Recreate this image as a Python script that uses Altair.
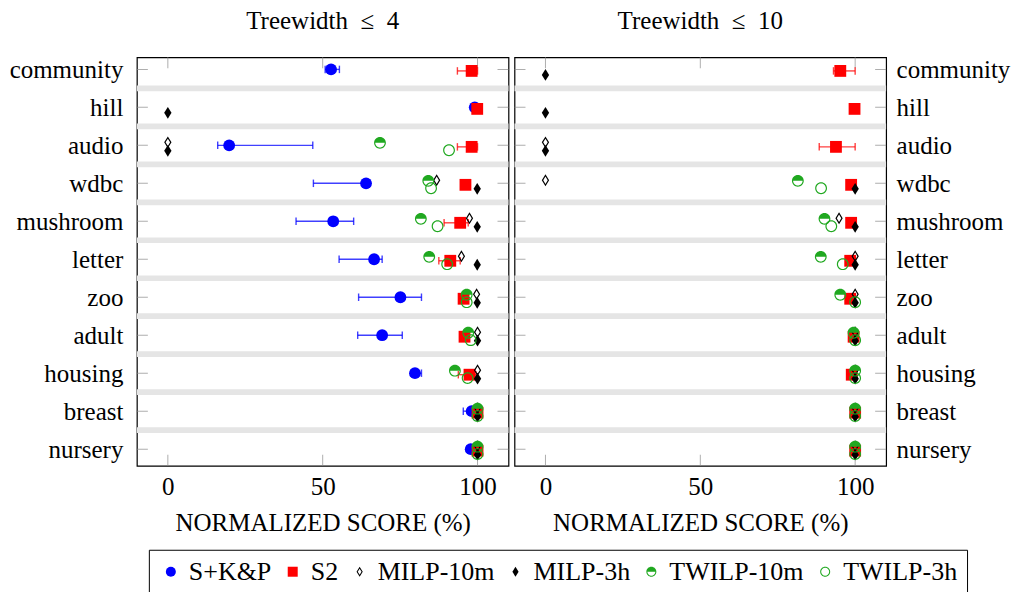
import json
import altair as alt
import pandas as pd

FONT = "Liberation Serif"

datasets = ["community", "hill", "audio", "wdbc", "mushroom", "letter",
            "zoo", "adult", "housing", "breast", "nursery"]

series_names = ["S+K&P", "S2", "MILP-10m", "MILP-3h", "TWILP-10m", "TWILP-3h"]
series_colors = ["#0000ff", "#ff0000", "#000000", "#000000", "#20a820", "#20a820"]

# ---------------- Treewidth <= 4 ----------------
tw4_skp = [52.7, 99.1, 19.8, 64.0, 53.4, 66.6, 75.1, 69.2, 79.8, 98.1, 97.8]
tw4_skp_lo = [50.8, 99.1, 16.1, 47.0, 41.4, 55.3, 61.6, 61.3, 78.5, 95.4, 96.5]
tw4_skp_hi = [55.4, 99.1, 46.8, 65.2, 60.0, 69.2, 81.9, 75.7, 81.9, 100.0, 99.0]

tw4_s2 = [98.1, 99.9, 98.1, 96.1, 94.4, 91.2, 95.5, 95.8, 97.4, 100.0, 100.0]
tw4_s2_lo = [93.5, 99.9, 93.5, 96.1, 89.2, 87.5, 95.5, 95.8, 93.8, 100.0, 100.0]
tw4_s2_hi = [100.0, 99.9, 100.0, 96.1, 97.0, 94.4, 95.5, 95.8, 99.5, 100.0, 100.0]

tw4_milp10 = [None, None, 0.0, 86.8, 97.4, 94.8, 99.7, 100.0, 100.0, 100.0, 100.0]
tw4_milp3h = [None, 0.0, 0.0, 99.9, 99.9, 99.9, 99.9, 100.0, 100.0, 100.0, 100.0]
tw4_twilp10 = [None, None, 68.5, 84.1, 81.7, 84.4, 96.5, 97.0, 92.7, 100.0, 100.0]
tw4_twilp3h = [None, None, 90.8, 85.0, 87.1, 90.2, 96.5, 97.8, 96.8, 100.0, 100.0]

# ---------------- Treewidth <= 10 ----------------
tw10_s2 = [95.2, 99.8, 93.8, 98.7, 98.7, 98.4, 98.4, 99.5, 98.9, 100.0, 100.0]
tw10_s2_lo = [93.0, 99.8, 88.4, 98.7, 98.7, 98.4, 98.4, 99.5, 98.9, 100.0, 100.0]
tw10_s2_hi = [100.0, 99.8, 100.0, 98.7, 98.7, 98.4, 98.4, 99.5, 98.9, 100.0, 100.0]

tw10_milp10 = [None, None, 0.0, 0.0, 94.8, 100.0, 100.0, 100.0, 100.0, 100.0, 100.0]
tw10_milp3h = [0.0, 0.0, 0.0, 100.0, 100.0, 100.0, 100.0, 100.0, 100.0, 100.0, 100.0]
tw10_twilp10 = [None, None, None, 81.5, 90.1, 88.9, 95.2, 99.5, 100.0, 100.0, 100.0]
tw10_twilp3h = [None, None, None, 89.0, 92.3, 96.0, 100.0, 100.0, 100.0, 100.0, 100.0]

x_ticks = [0, 50, 100]

# vertical offset of each series inside its row (row units)
series_offset = {"S+K&P": 0.0, "S2": 0.04, "MILP-10m": -0.08, "MILP-3h": 0.145,
                 "TWILP-10m": -0.065, "TWILP-3h": 0.13}

# marker shapes (unit square -1..1)
DIAMOND = "M0,-1L0.62,0L0,1L-0.62,0Z"
DIAMOND_OPEN = DIAMOND + "M0,-0.62L-0.38,0L0,0.62L0.38,0Z"
HALF = ("M-1,0A1,1 0 0,1 1,0Z"
        "M1,0A1,1 0 0,1 -1,0L-0.8,0A0.8,0.8 0 0,0 0.8,0Z")
RING = ("M-1,0A1,1 0 1,1 1,0A1,1 0 1,1 -1,0Z"
        "M-0.8,0A0.8,0.8 0 1,0 0.8,0A0.8,0.8 0 1,0 -0.8,0Z")
series_shapes = ["circle", "square", DIAMOND_OPEN, DIAMOND, HALF, RING]
color_of = dict(zip(series_names, series_colors))

X_DOM = [-10, 110]
Y_DOM = [-0.32, 10.44]
W, H = 372, 409


def build(series_list):
    rows = []
    for name, vals, lo, hi in series_list:
        for i, v in enumerate(vals):
            if v is None:
                continue
            rows.append(dict(series=name, row=i, value=v,
                             lo=lo[i] if lo else v, hi=hi[i] if hi else v,
                             y=i + series_offset[name]))
    return pd.DataFrame(rows)


df4 = build([
    ("S+K&P", tw4_skp, tw4_skp_lo, tw4_skp_hi),
    ("S2", tw4_s2, tw4_s2_lo, tw4_s2_hi),
    ("MILP-10m", tw4_milp10, None, None),
    ("MILP-3h", tw4_milp3h, None, None),
    ("TWILP-10m", tw4_twilp10, None, None),
    ("TWILP-3h", tw4_twilp3h, None, None),
])
df10 = build([
    ("S2", tw10_s2, tw10_s2_lo, tw10_s2_hi),
    ("MILP-10m", tw10_milp10, None, None),
    ("MILP-3h", tw10_milp3h, None, None),
    ("TWILP-10m", tw10_twilp10, None, None),
    ("TWILP-3h", tw10_twilp3h, None, None),
])

bands = pd.DataFrame({"b0": [i + 0.425 for i in range(len(datasets) - 1)],
                      "b1": [i + 0.575 for i in range(len(datasets) - 1)]})
yticks = pd.DataFrame({"row": list(range(len(datasets))) * 2,
                       "x": [X_DOM[0]] * len(datasets) + [X_DOM[1]] * len(datasets)})
xticks = pd.DataFrame({"x": x_ticks * 2,
                       "y": [Y_DOM[0]] * len(x_ticks) + [Y_DOM[1]] * len(x_ticks)})

label_expr = json.dumps(datasets) + "[datum.value]"

xscale = alt.Scale(domain=X_DOM, nice=False, zero=False)
yscale = alt.Scale(domain=Y_DOM, reverse=True, nice=False, zero=False)

color_scale = alt.Scale(domain=series_names, range=series_colors)
shape_scale = alt.Scale(domain=series_names, range=series_shapes)

LEG = alt.Legend(title=None, orient="none", legendX=12, legendY=493,
                 direction="horizontal", columns=6,
                 labelFont=FONT, labelFontSize=26, labelColor="black",
                 symbolSize=100, symbolStrokeWidth=0, labelOffset=5,
                 columnPadding=8, padding=9, strokeColor="black",
                 fillColor="white", cornerRadius=0)


def panel(df, title, y_orient, lab_pad):
    xaxis = alt.Axis(values=x_ticks, ticks=False, domain=False, grid=False,
                     title="NORMALIZED SCORE (%)", labelPadding=9, titlePadding=11)
    yaxis = alt.Axis(values=list(range(len(datasets))), labelExpr=label_expr,
                     ticks=False, domain=False, grid=False, title=None,
                     orient=y_orient, labelPadding=lab_pad)

    band_layer = alt.Chart(bands).mark_rect(color="#e5e5e5").encode(
        x=alt.datum(X_DOM[0], scale=xscale, axis=xaxis), x2=alt.datum(X_DOM[1]),
        y=alt.Y("b0:Q", scale=yscale, axis=yaxis), y2="b1:Q")

    ytick_layer = alt.Chart(yticks).mark_tick(
        orient="horizontal", size=22, thickness=1, color="#8c8c8c", clip=True
    ).encode(x=alt.X("x:Q", scale=xscale, axis=xaxis),
             y=alt.Y("row:Q", scale=yscale, axis=yaxis))

    xtick_layer = alt.Chart(xticks).mark_tick(
        orient="vertical", size=22, thickness=1, color="#8c8c8c", clip=True
    ).encode(x=alt.X("x:Q", scale=xscale, axis=xaxis),
             y=alt.Y("y:Q", scale=yscale, axis=yaxis))

    layers = [band_layer, ytick_layer, xtick_layer]

    err = df[df["lo"] != df["hi"]]
    for name in series_names:
        sub = err[err["series"] == name]
        if sub.empty:
            continue
        col = color_of[name]
        layers.append(alt.Chart(sub).mark_rule(
            strokeWidth=1.4, opacity=0.75, color=col).encode(
            x=alt.X("lo:Q", scale=xscale, axis=xaxis), x2="hi:Q",
            y=alt.Y("y:Q", scale=yscale, axis=yaxis)))
        caps = pd.concat([sub.assign(cap=sub["lo"]), sub.assign(cap=sub["hi"])])
        layers.append(alt.Chart(caps).mark_point(
            shape="M0,-1L0,1", filled=False, size=56, strokeWidth=1.4,
            opacity=0.75, color=col).encode(
            x=alt.X("cap:Q", scale=xscale, axis=xaxis),
            y=alt.Y("y:Q", scale=yscale, axis=yaxis)))

    point_layer = alt.Chart(df).mark_point(filled=True, opacity=1, size=140,
                                           strokeWidth=0).encode(
        x=alt.X("value:Q", scale=xscale, axis=xaxis),
        y=alt.Y("y:Q", scale=yscale, axis=yaxis),
        color=alt.Color("series:N", scale=color_scale, legend=LEG),
        shape=alt.Shape("series:N", scale=shape_scale, legend=LEG),
        order=alt.Order("order:Q"),
    ).transform_calculate(order="indexof(" + json.dumps(series_names) + ", datum.series)")
    layers.append(point_layer)

    return alt.layer(*layers).properties(
        width=W, height=H,
        title=alt.TitleParams(title, font=FONT, fontSize=25, fontWeight="normal",
                              color="black", offset=23, anchor="middle"))


left = panel(df4, "Treewidth\u2002≤\u20024", "left", 14)
right = panel(df10, "Treewidth\u2002≤\u200210", "right", 10)

chart = alt.hconcat(left, right, spacing=4).resolve_scale(
    color="shared", shape="shared"
).resolve_legend(color="shared", shape="shared").properties(padding=0).configure(
    font=FONT
).configure_view(
    stroke="black", strokeWidth=1.2
).configure_axis(
    labelFont=FONT, labelFontSize=25, labelColor="black",
    titleFont=FONT, titleFontSize=25, titleFontWeight="normal", titleColor="black"
).configure_legend(
    labelFont=FONT, labelFontSize=26, labelColor="black"
)

chart.save("out.html", embed_options={"renderer": "svg", "actions": False})
